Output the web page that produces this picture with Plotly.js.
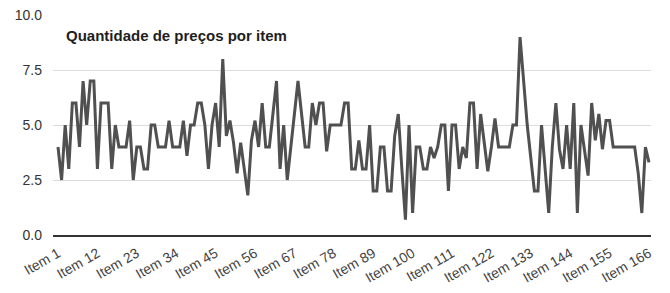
<!DOCTYPE html>
<html>
<head>
<meta charset="utf-8">
<script src="https://cdn.plot.ly/plotly-3.0.1.min.js"></script>
<style>
html,body{margin:0;padding:0;background:#fff;}
#chart{width:670px;height:293px;}
</style>
</head>
<body>
<div id="chart"></div>
<script>
const itemCount = 166;
const categories = [];
for (let i = 1; i <= itemCount; i++) categories.push("Item " + i);

const priceCounts = [
  4, 2.5, 5, 3, 6, 6, 4, 7, 5, 7,
  7, 3, 6, 6, 6, 3, 5, 4, 4, 4,
  5.2, 2.5, 4, 4, 3, 3, 5, 5, 4, 4,
  4, 5.2, 4, 4, 4, 5.2, 3.6, 5, 5, 6,
  6, 5, 3, 5, 6, 4, 8, 4.5, 5.2, 4.2,
  2.8, 4.2, 2.9, 1.8, 4.3, 5.2, 4, 6, 4, 4,
  5.5, 7, 3, 5, 2.5, 4, 5.5, 7, 5.5, 4,
  4, 6, 5, 6, 6, 3.8, 5, 5, 5, 5,
  6, 6, 3, 3, 4.3, 3, 3, 5, 2, 2,
  4, 4, 2, 2, 4.5, 5.5, 3, 0.7, 5, 1,
  4, 4, 3, 3, 4, 3.5, 4, 5, 5, 2,
  5, 5, 3, 4, 3.5, 6, 6, 3, 5.5, 4.2,
  2.9, 4, 5.3, 4, 4, 4, 4, 5, 5, 9,
  7, 5, 3.5, 2, 2, 5, 3, 1, 4, 6,
  3.9, 3, 5, 3, 6, 1, 5, 3.9, 2.7, 6,
  4.3, 5.5, 3.9, 5.2, 5.2, 4, 4, 4, 4, 4,
  4, 4, 2.8, 1, 4, 3.3
];

const xTickLabels = ["Item 1","Item 12","Item 23","Item 34","Item 45","Item 56","Item 67","Item 78","Item 89","Item 100","Item 111","Item 122","Item 133","Item 144","Item 155","Item 166"];
const yTickValues = [0, 2.5, 5, 7.5, 10];
const yTickLabels = ["0.0", "2.5", "5.0", "7.5", "10.0"];
const chartTitle = "Quantidade de preços por item";

const trace = {
  x: categories,
  y: priceCounts,
  type: "scatter",
  mode: "lines",
  line: {color: "#505050", width: 3},
  hoverinfo: "skip"
};

const layout = {
  width: 670,
  height: 293,
  margin: {l: 53, r: 19, t: 15, b: 58},
  paper_bgcolor: "#ffffff",
  plot_bgcolor: "#ffffff",
  showlegend: false,
  font: {family: "Liberation Sans, Arial, sans-serif", color: "#333333"},
  title: {
    text: "<b>" + chartTitle + "</b>",
    x: 66 / 670, xref: "container", xanchor: "left",
    y: 1 - 36 / 293, yref: "container", yanchor: "middle",
    font: {size: 15, color: "#1e1e1e"}
  },
  xaxis: {
    type: "category",
    range: [-1.4, 165.56],
    tickmode: "array",
    tickvals: xTickLabels,
    ticktext: xTickLabels,
    tickangle: -30,
    showgrid: false,
    showline: true,
    linecolor: "#333333",
    linewidth: 2,
    ticks: "",
    ticklabelstandoff: 3,
    tickfont: {size: 14, color: "#444444"},
    fixedrange: true
  },
  yaxis: {
    range: [0, 10],
    tickmode: "array",
    tickvals: yTickValues,
    ticktext: yTickLabels,
    showgrid: true,
    gridcolor: "#dcdcdc",
    gridwidth: 1,
    zeroline: false,
    showline: false,
    ticks: "",
    ticklabelstandoff: 10,
    tickfont: {size: 14, color: "#333333"},
    fixedrange: true
  }
};

Plotly.newPlot("chart", [trace], layout, {displayModeBar: false, staticPlot: true});
</script>
</body>
</html>
